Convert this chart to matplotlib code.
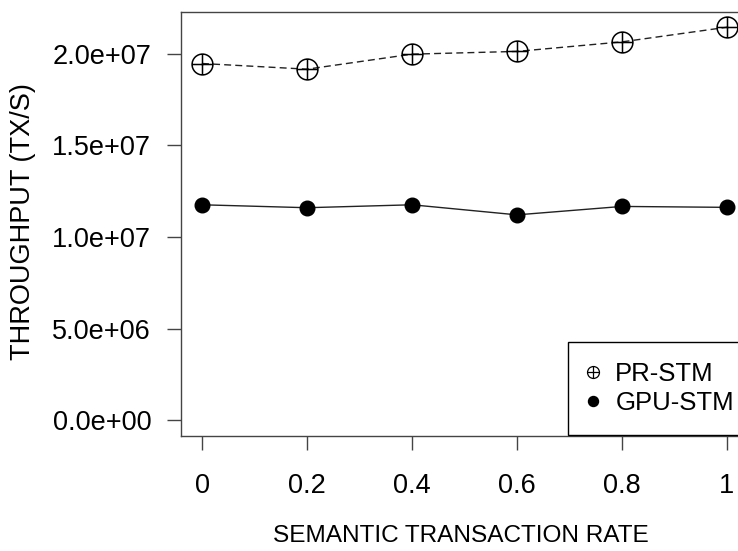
import matplotlib
matplotlib.use("Agg")
import matplotlib.pyplot as plt
from matplotlib.path import Path
from matplotlib.lines import Line2D

plt.rcParams['font.family'] = ['Liberation Sans', 'DejaVu Sans']

# === Data ===
rates = [0, 0.2, 0.4, 0.6, 0.8, 1]
pr_stm = [1.947e7, 1.916e7, 1.998e7, 2.013e7, 2.065e7, 2.145e7]
gpu_stm = [1.176e7, 1.160e7, 1.176e7, 1.121e7, 1.167e7, 1.162e7]

x_ticks = [0, 0.2, 0.4, 0.6, 0.8, 1]
x_tick_labels = ["0", "0.2", "0.4", "0.6", "0.8", "1"]
y_ticks = [0, 5e6, 1e7, 1.5e7, 2e7]
y_tick_labels = ["0.0e+00", "5.0e+06", "1.0e+07", "1.5e+07", "2.0e+07"]

# circle-with-cross marker (like R pch=10)
oplus = Path.make_compound_path(
    Path.unit_circle(),
    Path([[-1, 0], [1, 0]], [Path.MOVETO, Path.LINETO]),
    Path([[0, -1], [0, 1]], [Path.MOVETO, Path.LINETO]),
)

# === Figure (right side of the plot region is cut off, as in the original) ===
W, H = 738, 551
fig = plt.figure(figsize=(W / 100, H / 100), dpi=100)
ax = fig.add_axes([181 / W, 115 / H, 567 / W, 424.5 / H])

ax.plot(rates, pr_stm, color='#222222', lw=1, dashes=(5, 3),
        marker=oplus, markersize=15, markerfacecolor='none',
        markeredgecolor='black', markeredgewidth=1.1)
ax.plot(rates, gpu_stm, color='#222222', lw=1,
        marker='o', markersize=10.5, markerfacecolor='black',
        markeredgecolor='black')

ax.set_xlim(-0.04, 1.04)
ax.set_ylim(-0.0858e7, 2.2308e7)
ax.set_xticks(x_ticks)
ax.set_xticklabels(x_tick_labels)
ax.set_yticks(y_ticks)
ax.set_yticklabels(y_tick_labels)
ax.tick_params(direction='out', length=10, width=1, color='#444444', labelsize=19.5)
ax.tick_params(axis='x', pad=16.5)
ax.tick_params(axis='y', pad=11.5)
for s in ax.spines.values():
    s.set_color('#444444')
    s.set_linewidth(1)

fig.text(23 / W, 1 - 222 / H, "THROUGHPUT (TX/S)", rotation=90,
         ha='center', va='center', fontsize=19.5)
fig.text(461 / W, 1 - 535.5 / H, "SEMANTIC TRANSACTION RATE",
         ha='center', va='center', fontsize=17.6)

# === Legend ===
handles = [
    Line2D([], [], ls='none', marker=oplus, markersize=8.6, markerfacecolor='none',
           markeredgecolor='black', markeredgewidth=0.9),
    Line2D([], [], ls='none', marker='o', markersize=7.2, color='black'),
]
leg = ax.legend(handles, ["PR-STM", "GPU-STM"], loc='upper left',
                bbox_to_anchor=(568 / W, 1 - 342 / H), bbox_transform=fig.transFigure,
                fontsize=18.5, frameon=True, fancybox=False, framealpha=1,
                edgecolor='black', borderpad=0.78, handlelength=0.38,
                handletextpad=0.68, labelspacing=0.18, borderaxespad=0)
leg.get_frame().set_linewidth(1)

fig.savefig("out.png", dpi=100)
